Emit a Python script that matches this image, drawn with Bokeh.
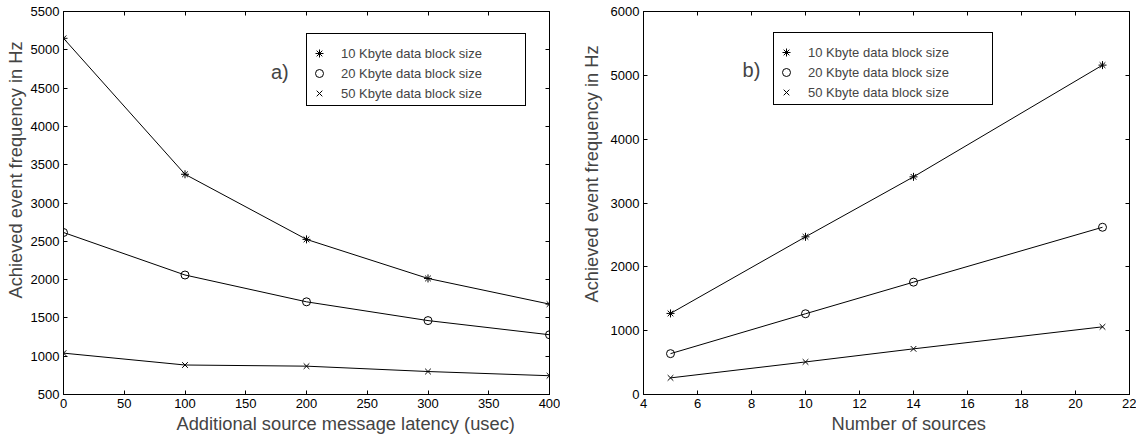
from bokeh.plotting import figure
from bokeh.layouts import row
from bokeh.models import (FixedTicker, LinearAxis, Legend, LegendItem, Label,
                          Title, Range1d)
from bokeh.embed import file_html
from bokeh.resources import INLINE

# ---- data ----
latency_usec = [0, 100, 200, 300, 400]
freq_lat_10k = [5150, 3375, 2525, 2015, 1680]
freq_lat_20k = [2615, 2060, 1710, 1465, 1280]
freq_lat_50k = [1040, 885, 870, 800, 745]

num_sources = [5, 10, 14, 21]
freq_src_10k = [1270, 2470, 3410, 5160]
freq_src_20k = [640, 1265, 1760, 2620]
freq_src_50k = [260, 510, 715, 1060]

series_labels = ["10 Kbyte data block size",
                 "20 Kbyte data block size",
                 "50 Kbyte data block size"]

xticks_a = [0, 50, 100, 150, 200, 250, 300, 350, 400]
yticks_a = [500, 1000, 1500, 2000, 2500, 3000, 3500, 4000, 4500, 5000, 5500]
xticks_b = [4, 6, 8, 10, 12, 14, 16, 18, 20, 22]
yticks_b = [0, 1000, 2000, 3000, 4000, 5000, 6000]

FONT = "Liberation Sans"
TICK_FS = "13px"
LABEL_FS = "18.3px"


def style_axis(ax, ticks):
    ax.ticker = FixedTicker(ticks=ticks)
    ax.axis_line_color = "black"
    ax.major_tick_line_color = "black"
    ax.major_tick_in = 4
    ax.major_tick_out = 0
    ax.minor_tick_line_color = None
    ax.major_label_text_font = FONT
    ax.major_label_text_font_size = TICK_FS
    ax.major_label_text_color = "black"
    ax.major_label_standoff = 4


def mirror_axis(ticks):
    # tick marks only (mirrored on the top / right edge), no labels drawn
    ax = LinearAxis()
    style_axis(ax, ticks)
    ax.major_label_text_font_size = "1px"
    ax.major_label_text_color = None
    ax.major_label_standoff = 0
    return ax


def make_panel(width, bl, br, xr, yr, xticks, yticks, xs, ys_list,
               xlabel, ylabel, xoff, yoff, ystand, leg_loc, tag, tag_xy):
    p = figure(width=width, height=438, x_range=xr, y_range=yr,
               output_backend="svg", toolbar_location=None,
               min_border_left=bl, min_border_right=br,
               min_border_top=11, min_border_bottom=44)
    p.xgrid.visible = False
    p.ygrid.visible = False
    p.outline_line_color = "black"
    p.outline_line_alpha = 1.0
    p.outline_line_width = 1
    p.background_fill_color = "white"
    p.border_fill_color = "white"
    style_axis(p.xaxis[0], xticks)
    style_axis(p.yaxis[0], yticks)
    p.add_layout(mirror_axis(xticks), "above")
    p.add_layout(mirror_axis(yticks), "right")

    p.add_layout(Title(text=xlabel, align="left", offset=xoff,
                       text_font=FONT, text_font_size=LABEL_FS,
                       text_font_style="normal", standoff=0), "below")
    p.add_layout(Title(text=ylabel, align="left", offset=yoff,
                       text_font=FONT, text_font_size=LABEL_FS,
                       text_font_style="normal", standoff=ystand), "left")

    markers = ["asterisk", "circle", "x"]
    items = []
    for ys, mk, lab in zip(ys_list, markers, series_labels):
        p.line(xs, ys, line_color="black", line_width=1)
        r = p.scatter(xs, ys, marker=mk, size=8, line_color="black",
                      fill_color=None, line_width=1)
        items.append(LegendItem(label=lab, renderers=[r]))

    leg = Legend(items=items, location=leg_loc, title=" ",
                 title_text_font_size="6px", title_standoff=1,
                 label_text_font=FONT, label_text_font_size="13px",
                 label_height=20, label_width=182, glyph_height=20,
                 glyph_width=20, spacing=0, padding=2, margin=0,
                 label_standoff=12, border_line_color="black",
                 border_line_width=1, border_line_alpha=1.0,
                 background_fill_color="white", background_fill_alpha=1.0)
    p.add_layout(leg, "center")

    p.add_layout(Label(x=tag_xy[0], y=tag_xy[1], text=tag,
                       text_font=FONT, text_font_size="20px",
                       text_align="center", text_baseline="middle"))
    return p


pa = make_panel(560, 62, 11, Range1d(0, 400), Range1d(500, 5500),
                xticks_a, yticks_a, latency_usec,
                [freq_lat_10k, freq_lat_20k, freq_lat_50k],
                "Additional source message latency (usec)",
                "Achieved event frequency in Hz",
                113, 96, 4, (243, 288), "a)", (178, 4715))

pb = make_panel(576, 83, 7, Range1d(4, 22), Range1d(0, 6000),
                xticks_b, yticks_b, num_sources,
                [freq_src_10k, freq_src_20k, freq_src_50k],
                "Number of sources",
                "Achieved event frequency in Hz",
                188, 92, 11, (130, 289), "b)", (8, 5076))

layout = row(pa, pb, spacing=0)
open("out.html", "w").write(file_html(layout, INLINE))
